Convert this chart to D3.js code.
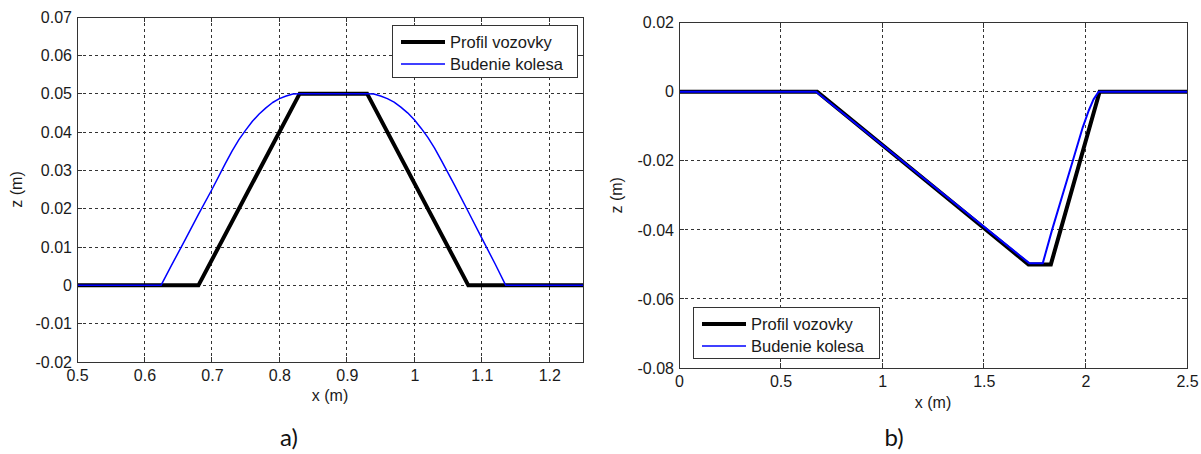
<!DOCTYPE html>
<html>
<head>
<meta charset="utf-8">
<script src="https://cdn.jsdelivr.net/npm/d3@7"></script>
<style>
  body { margin: 0; background: #fff; }
  svg { display: block; }
  text { font-family: "Liberation Sans", Arial, sans-serif; fill: #1a1a1a; }
  .caption { font-family: Lato, "Open Sans", sans-serif; fill: #111; }
</style>
</head>
<body>
<svg id="chart" width="1201" height="454"></svg>
<script>
// ---------- panel a): trapezoidal bump ----------
const xTicksA = [0.5, 0.6, 0.7, 0.8, 0.9, 1.0, 1.1, 1.2];
const xTickLabelsA = ["0.5", "0.6", "0.7", "0.8", "0.9", "1", "1.1", "1.2"];
const zTicksA = [-0.02, -0.01, 0, 0.01, 0.02, 0.03, 0.04, 0.05, 0.06, 0.07];
const zTickLabelsA = ["-0.02", "-0.01", "0", "0.01", "0.02", "0.03", "0.04", "0.05", "0.06", "0.07"];

const roadA_x = [0.5, 0.68, 0.83, 0.93, 1.08, 1.25];
const roadA_z = [0, 0, 0.05, 0.05, 0, 0];

const wheelA_x = [0.5, 0.6245, 0.64, 0.66, 0.68, 0.70, 0.72, 0.73, 0.74, 0.75, 0.76, 0.77, 0.78, 0.79, 0.80, 0.81, 0.82, 0.83,
                  0.93, 0.94, 0.95, 0.96, 0.97, 0.98, 0.99, 1.00, 1.01, 1.02, 1.03, 1.04, 1.06, 1.08, 1.10, 1.12, 1.1355, 1.25];
const wheelA_z = [0, 0, 0.0052, 0.0118, 0.0185, 0.0250, 0.0318, 0.0351, 0.0380, 0.0405, 0.0428, 0.0447, 0.0463, 0.0477, 0.0487, 0.0494, 0.0499, 0.05,
                  0.05, 0.0499, 0.0494, 0.0487, 0.0478, 0.0465, 0.0450, 0.0432, 0.0410, 0.0386, 0.0358, 0.0326, 0.0260, 0.0192, 0.0123, 0.0055, 0, 0];

// ---------- panel b): sloped pothole ----------
const xTicksB = [0, 0.5, 1, 1.5, 2, 2.5];
const xTickLabelsB = ["0", "0.5", "1", "1.5", "2", "2.5"];
const zTicksB = [-0.08, -0.06, -0.04, -0.02, 0, 0.02];
const zTickLabelsB = ["-0.08", "-0.06", "-0.04", "-0.02", "0", "0.02"];

const roadB_x = [0, 0.68, 1.72, 1.83, 2.07, 2.5];
const roadB_z = [0, 0, -0.05, -0.05, 0, 0];

const wheelB_x = [0, 0.675, 1.725, 1.79, 1.836, 1.938, 1.987, 2.016, 2.04, 2.065, 2.5];
const wheelB_z = [0, 0, -0.0497, -0.0497, -0.04, -0.02, -0.0103, -0.0055, -0.0022, 0, 0];

const seriesNames = ["Profil vozovky", "Budenie kolesa"];
const seriesColors = ["#000000", "#0000ff"];
const captions = ["a)", "b)"];
const axisLabelX = "x (m)";
const axisLabelZ = "z (m)";

const svg = d3.select("#chart");
svg.append("rect").attr("width", 1201).attr("height", 454).attr("fill", "#fff");

function zip(xs, zs) { return xs.map((x, i) => [x, zs[i]]); }

function drawPanel(cfg, idx) {
  const { left, right, top, bottom } = cfg.box;
  const x = d3.scaleLinear().domain(cfg.xDomain).range([left, right]);
  const y = d3.scaleLinear().domain(cfg.zDomain).range([bottom, top]);
  const g = svg.append("g");

  const clipId = "clip" + idx;
  svg.append("defs").append("clipPath").attr("id", clipId)
    .append("rect").attr("x", left).attr("y", top).attr("width", right - left).attr("height", bottom - top);

  // dotted grid
  const grid = g.append("g").attr("stroke", "#333").attr("stroke-width", 1)
    .attr("stroke-dasharray", "3,3").attr("shape-rendering", "crispEdges");
  grid.selectAll("line.v").data(cfg.xTicks).join("line")
    .attr("x1", d => x(d)).attr("x2", d => x(d)).attr("y1", top).attr("y2", bottom);
  grid.selectAll("line.h").data(cfg.zTicks).join("line")
    .attr("x1", left).attr("x2", right).attr("y1", d => y(d)).attr("y2", d => y(d));

  // tick labels via d3 axes
  const xAxis = d3.axisBottom(x).tickValues(cfg.xTicks)
    .tickFormat((d, i) => cfg.xLabels[i]).tickSize(0).tickPadding(8);
  const yAxis = d3.axisLeft(y).tickValues(cfg.zTicks)
    .tickFormat((d, i) => cfg.zLabels[i]).tickSize(0).tickPadding(5);
  const gx = g.append("g").attr("transform", `translate(0,${bottom})`).call(xAxis);
  const gy = g.append("g").attr("transform", `translate(${left},0)`).call(yAxis);
  [gx, gy].forEach(a => {
    a.select(".domain").remove();
    a.selectAll("text").attr("font-size", 16).attr("fill", "#1a1a1a")
      .attr("font-family", '"Liberation Sans", Arial, sans-serif');
  });

  // inward tick marks on all four sides
  const tk = g.append("g").attr("stroke", "#333").attr("stroke-width", 1).attr("shape-rendering", "crispEdges");
  cfg.xTicks.forEach(t => {
    tk.append("line").attr("x1", x(t)).attr("x2", x(t)).attr("y1", bottom).attr("y2", bottom - 5);
    tk.append("line").attr("x1", x(t)).attr("x2", x(t)).attr("y1", top).attr("y2", top + 5);
  });
  cfg.zTicks.forEach(t => {
    tk.append("line").attr("x1", left).attr("x2", left + 5).attr("y1", y(t)).attr("y2", y(t));
    tk.append("line").attr("x1", right).attr("x2", right - 5).attr("y1", y(t)).attr("y2", y(t));
  });

  // data lines
  const line = d3.line().x(d => x(d[0])).y(d => y(d[1]));
  const plot = g.append("g").attr("clip-path", `url(#${clipId})`);
  plot.append("path").datum(cfg.road).attr("d", line)
    .attr("fill", "none").attr("stroke", seriesColors[0]).attr("stroke-width", 4)
    .attr("stroke-linejoin", "miter");
  plot.append("path").datum(cfg.wheel).attr("d", line)
    .attr("fill", "none").attr("stroke", seriesColors[1]).attr("stroke-width", cfg.wheelWidth)
    .attr("stroke-linejoin", "round");

  // axes box
  g.append("rect").attr("x", left).attr("y", top).attr("width", right - left).attr("height", bottom - top)
    .attr("fill", "none").attr("stroke", "#333").attr("stroke-width", 1).attr("shape-rendering", "crispEdges");

  // axis titles
  g.append("text").attr("x", (left + right) / 2).attr("y", bottom + cfg.xLabelOffset)
    .attr("text-anchor", "middle").attr("font-size", 16).text(axisLabelX);
  g.append("text").attr("transform", `translate(${left - cfg.zLabelOffset},${(top + bottom) / 2}) rotate(-90)`)
    .attr("text-anchor", "middle").attr("font-size", 16).text(axisLabelZ);

  // legend
  const L = cfg.legend;
  const lg = g.append("g");
  lg.append("rect").attr("x", L.x).attr("y", L.y).attr("width", L.w).attr("height", L.h)
    .attr("fill", "#fff").attr("stroke", "#333").attr("stroke-width", 1).attr("shape-rendering", "crispEdges");
  seriesNames.forEach((name, i) => {
    const cy = L.y + 17 + i * 22;
    lg.append("line").attr("x1", L.x + 9).attr("x2", L.x + 53).attr("y1", cy).attr("y2", cy)
      .attr("stroke", seriesColors[i]).attr("stroke-width", i === 0 ? 4 : 1.6);
    lg.append("text").attr("x", L.x + 58).attr("y", cy).attr("dy", "0.36em")
      .attr("font-size", 16.5).text(name);
  });

  // caption
  svg.append("text").attr("class", "caption").attr("x", cfg.captionX).attr("y", 446)
    .attr("text-anchor", "middle").attr("font-size", 24).text(captions[idx]);
}

drawPanel({
  box: { left: 77, right: 583, top: 17, bottom: 362 },
  xDomain: [0.5, 1.25], zDomain: [-0.02, 0.07],
  xTicks: xTicksA, xLabels: xTickLabelsA, zTicks: zTicksA, zLabels: zTickLabelsA,
  road: zip(roadA_x, roadA_z), wheel: zip(wheelA_x, wheelA_z), wheelWidth: 1.5,
  legend: { x: 392, y: 25, w: 185, h: 52 },
  xLabelOffset: 39, zLabelOffset: 55, captionX: 289
}, 0);

drawPanel({
  box: { left: 679, right: 1187, top: 22.7, bottom: 368 },
  xDomain: [0, 2.5], zDomain: [-0.08, 0.02],
  xTicks: xTicksB, xLabels: xTickLabelsB, zTicks: zTicksB, zLabels: zTickLabelsB,
  road: zip(roadB_x, roadB_z), wheel: zip(wheelB_x, wheelB_z), wheelWidth: 2,
  legend: { x: 693, y: 307, w: 186, h: 51 },
  xLabelOffset: 40, zLabelOffset: 57, captionX: 894
}, 1);
</script>
</body>
</html>
